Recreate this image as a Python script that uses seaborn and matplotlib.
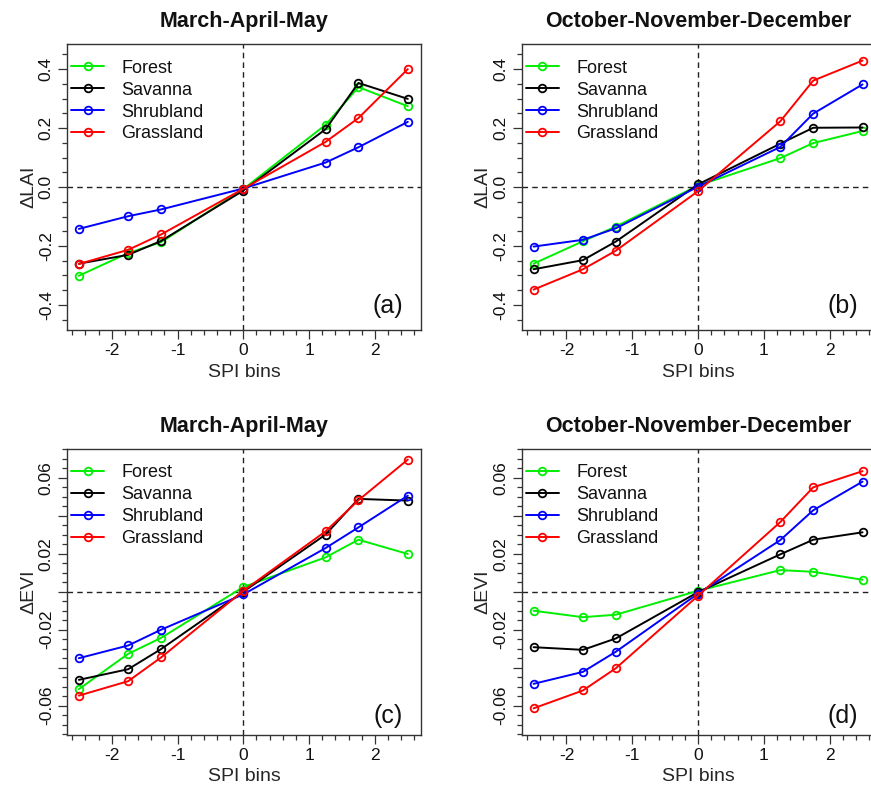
import matplotlib
matplotlib.use("Agg")
import matplotlib.pyplot as plt
from matplotlib.ticker import MultipleLocator, FixedLocator, FixedFormatter
import pandas as pd
import seaborn as sns

# SPI bin centres shared by every panel
spi_bins = [-2.5, -1.75, -1.25, 0.0, 1.25, 1.75, 2.5]
covers = ["Forest", "Savanna", "Shrubland", "Grassland"]
cover_colors = ["#00ee00", "#000000", "#0000ff", "#ff0000"]

# Mean LAI anomaly per SPI bin, March-April-May
lai_mam = {
    "Forest":    [-0.301, -0.224, -0.187, -0.007, 0.211, 0.339, 0.274],
    "Savanna":   [-0.260, -0.230, -0.183, -0.012, 0.196, 0.353, 0.299],
    "Shrubland": [-0.142, -0.099, -0.076, -0.005, 0.083, 0.135, 0.221],
    "Grassland": [-0.261, -0.213, -0.161, -0.006, 0.153, 0.234, 0.400],
}
# Mean LAI anomaly per SPI bin, October-November-December
lai_ond = {
    "Forest":    [-0.260, -0.184, -0.134, 0.005, 0.098, 0.149, 0.190],
    "Savanna":   [-0.279, -0.248, -0.185, 0.009, 0.147, 0.201, 0.202],
    "Shrubland": [-0.202, -0.179, -0.140, 0.001, 0.136, 0.249, 0.348],
    "Grassland": [-0.348, -0.279, -0.216, -0.014, 0.223, 0.361, 0.429],
}
# Mean EVI anomaly per SPI bin, March-April-May
evi_mam = {
    "Forest":    [-0.0513, -0.0327, -0.0243, 0.0025, 0.0181, 0.0274, 0.0199],
    "Savanna":   [-0.0464, -0.0408, -0.0302, 0.0000, 0.0301, 0.0489, 0.0480],
    "Shrubland": [-0.0350, -0.0283, -0.0200, -0.0014, 0.0230, 0.0339, 0.0506],
    "Grassland": [-0.0547, -0.0471, -0.0346, 0.0005, 0.0318, 0.0482, 0.0696],
}
# Mean EVI anomaly per SPI bin, October-November-December
evi_ond = {
    "Forest":    [-0.0100, -0.0134, -0.0121, 0.0005, 0.0114, 0.0105, 0.0063],
    "Savanna":   [-0.0292, -0.0306, -0.0246, -0.0002, 0.0197, 0.0274, 0.0313],
    "Shrubland": [-0.0485, -0.0422, -0.0316, -0.0010, 0.0272, 0.0429, 0.0580],
    "Grassland": [-0.0614, -0.0520, -0.0403, -0.0021, 0.0367, 0.0550, 0.0635],
}

x_major = [-2, -1, 0, 1, 2]
lai_ticks = [-0.4, -0.2, 0.0, 0.2, 0.4]
lai_labels = ["-0.4", "-0.2", "0.0", "0.2", "0.4"]
evi_ticks = [-0.06, -0.04, -0.02, 0.0, 0.02, 0.04, 0.06]
evi_labels = ["-0.06", "", "-0.02", "", "0.02", "", "0.06"]

sns.set_theme(style="white")
plt.rcParams["font.family"] = ["Liberation Sans", "DejaVu Sans"]
plt.rcParams["axes.unicode_minus"] = False
plt.rcParams["axes.edgecolor"] = "#333333"
plt.rcParams["axes.linewidth"] = 1.0
plt.rcParams["text.color"] = "#111111"
plt.rcParams["xtick.color"] = "#333333"
plt.rcParams["ytick.color"] = "#333333"
plt.rcParams["xtick.labelcolor"] = "#111111"
plt.rcParams["ytick.labelcolor"] = "#111111"

fig = plt.figure(figsize=(8.71, 7.88), dpi=100)

W = 0.4064
H = 0.3629
panels = [
    # rect, data, title, ylabel, tag, tag_y, ticks, labels, ylim, minor
    ([0.0769, 0.5812, W, H], lai_mam, "March-April-May", "\u0394LAI", "(a)", 0.085,
     lai_ticks, lai_labels, 0.485, 0.05),
    ([0.5990, 0.5812, W, H], lai_ond, "October-November-December", "\u0394LAI", "(b)", 0.085,
     lai_ticks, lai_labels, 0.485, 0.05),
    ([0.0769, 0.0676, W, H], evi_mam, "March-April-May", "\u0394EVI", "(c)", 0.066,
     evi_ticks, evi_labels, 0.0753, 0.005),
    ([0.5990, 0.0676, W, H], evi_ond, "October-November-December", "\u0394EVI", "(d)", 0.066,
     evi_ticks, evi_labels, 0.0753, 0.005),
]

for rect, table, title, ylab, tag, tag_y, yt, yl, ylim, yminor in panels:
    ax = fig.add_axes(rect)
    ax.axhline(0, color="#222222", lw=1.0, ls=(0, (4, 3)), zorder=1)
    ax.axvline(0, color="#222222", lw=1.0, ls=(0, (4, 3)), zorder=1)

    for cov, col in zip(covers, cover_colors):
        df = pd.DataFrame({"spi": spi_bins, "delta": table[cov]})
        sns.lineplot(data=df, x="spi", y="delta", ax=ax, color=col, lw=1.4,
                     marker="o", ms=5.5, mfc="none", mec=col, mew=1.3,
                     label=cov, errorbar=None, sort=False, zorder=3)

    ax.set_xlim(-2.68, 2.70)
    ax.set_ylim(-ylim, ylim)

    ax.xaxis.set_major_locator(FixedLocator(x_major))
    ax.xaxis.set_minor_locator(MultipleLocator(0.2))
    ax.yaxis.set_major_locator(FixedLocator(yt))
    ax.yaxis.set_major_formatter(FixedFormatter(yl))
    ax.yaxis.set_minor_locator(MultipleLocator(yminor))
    ax.tick_params(axis="both", which="major", direction="out", length=6.5,
                   width=0.9, labelsize=12.5, pad=3)
    ax.tick_params(axis="both", which="minor", direction="out", length=3.5,
                   width=0.9)
    ax.tick_params(axis="y", which="major", labelrotation=90)
    ax.tick_params(bottom=True, left=True, which="both")
    for lbl in ax.get_yticklabels():
        lbl.set_va("center")

    ax.set_xlabel("SPI bins", fontsize=14)
    ax.set_ylabel(ylab, fontsize=14)
    ax.xaxis.set_label_coords(0.5, -0.118)
    ax.yaxis.set_label_coords(-0.085, 0.5)

    ax.set_title(title, fontsize=15.5, fontweight="bold", pad=12)
    ax.text(0.906, tag_y, tag, transform=ax.transAxes, ha="center",
            va="center", fontsize=18)

    ax.legend(loc="upper left", bbox_to_anchor=(0.011, 0.945), frameon=False,
              fontsize=13, borderaxespad=0, borderpad=0, handlelength=1.85,
              handletextpad=0.95, labelspacing=0.27)

fig.savefig("out.png", dpi=100)
